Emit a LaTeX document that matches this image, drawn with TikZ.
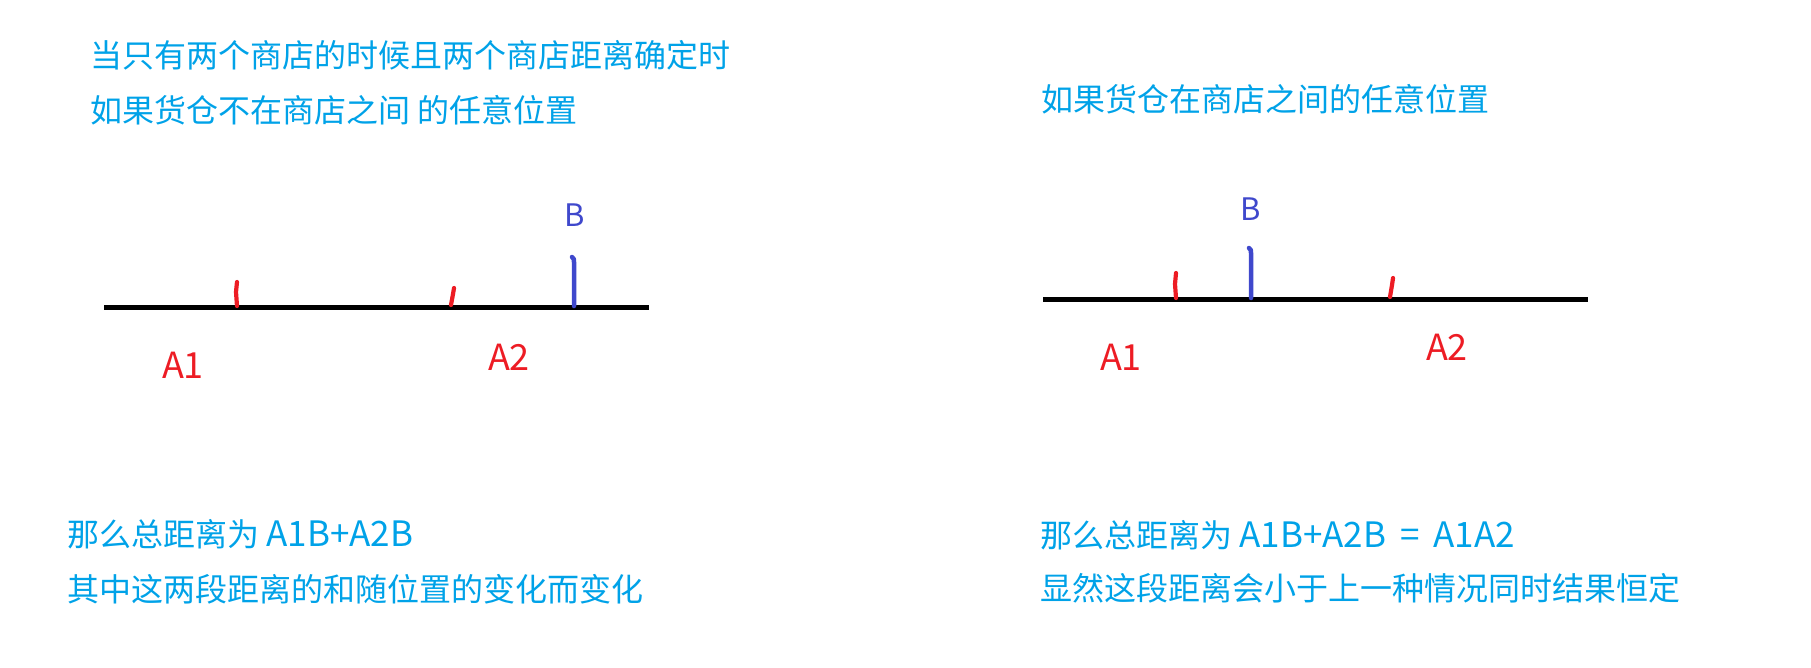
\documentclass[tikz,border=0pt]{standalone}
\usepackage{fontspec}
\setmainfont{Noto Sans CJK SC}
\definecolor{txtblue}{RGB}{0,162,232}
\definecolor{pred}{RGB}{237,28,36}
\definecolor{pblue}{RGB}{63,72,204}
\newcommand{\latinpart}[1]{{\fontsize{35}{35}\selectfont #1}}
\begin{document}
\begin{tikzpicture}[x=1pt,y=-1pt,
  note/.style={anchor=west, inner sep=0pt, text=txtblue, font=\fontsize{32}{32}\selectfont},
  lbl/.style={inner sep=0pt, text=pred, font=\fontsize{36}{36}\selectfont},
  blbl/.style={inner sep=0pt, text=pblue, font=\fontsize{31}{31}\selectfont},
  axisline/.style={line width=5pt, black},
  rtick/.style={line width=4.2pt, pred, line cap=round},
  btick/.style={line width=4.5pt, pblue, line cap=round}]
\useasboundingbox (0,0) rectangle (1811,667);
% ---------- left panel ----------
\node[note] (t1) at (90,55) {当只有两个商店的时候且两个商店距离确定时};
\node[note] (t2) at (90,110) {如果货仓不在商店之间 的任意位置};
\coordinate (la) at (104,307);
\coordinate (lb) at (649,307);
\draw[axisline] (la) -- (lb);
\draw[rtick] (237,306) -- (236,292) -- (237,282);
\draw[rtick] (451,305) -- (453,294) -- (454,288);
\draw[btick] (574,306) -- (574,262) .. controls (574,259) .. (572,257);
\node[blbl] (lB) at (575,215) {B};
\node[lbl] (lA1) at (183,365) {A1};
\node[lbl] (lA2) at (509,357) {A2};
\node[note] (b1) at (67,534) {那么总距离为 \latinpart{A1B+A2B}};
\node[note] (b2) at (67,589) {其中这两段距离的和随位置的变化而变化};
% ---------- right panel ----------
\node[note] (t3) at (1041,99) {如果货仓在商店之间的任意位置};
\coordinate (ra) at (1043,299);
\coordinate (rb) at (1588,299);
\draw[axisline] (ra) -- (rb);
\draw[rtick] (1176,298) -- (1175,284) -- (1176,273);
\draw[btick] (1251,298) -- (1251,253) .. controls (1251,250) .. (1249,248);
\draw[rtick] (1390,297) -- (1392,285) -- (1393,278);
\node[blbl] (rB) at (1251,209) {B};
\node[lbl] (rA1) at (1121,357) {A1};
\node[lbl] (rA2) at (1447,347) {A2};
\node[note] (b3) at (1040,535) {那么总距离为 \latinpart{A1B+A2B\hspace{0.4em}=\hspace{0.4em}A1A2}};
\node[note] (b4) at (1040,588) {显然这段距离会小于上一种情况同时结果恒定};
\end{tikzpicture}
\end{document}
